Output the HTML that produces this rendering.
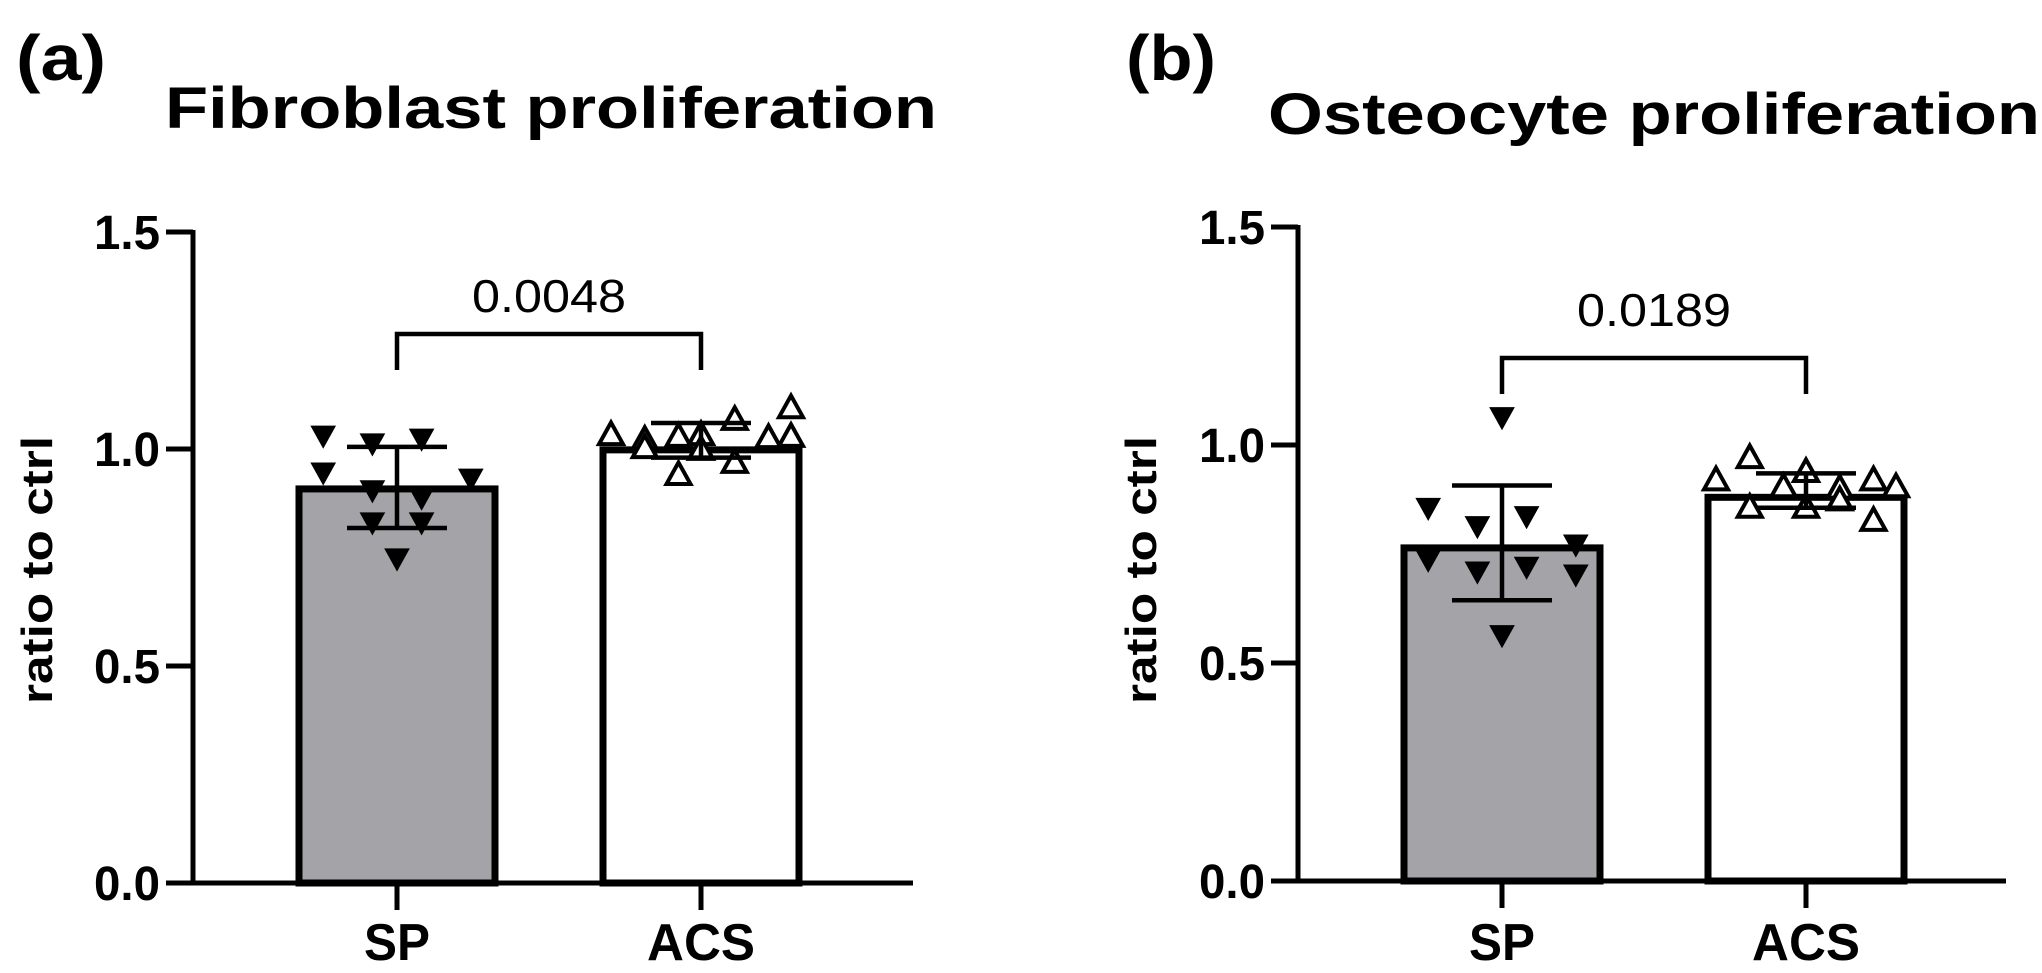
<!DOCTYPE html>
<html><head><meta charset="utf-8"><style>
html,body{margin:0;padding:0;background:#fff;}
svg{display:block;}
text{font-family:"Liberation Sans",Arial,sans-serif;}
</style></head><body>
<svg id="fig" width="2042" height="973" viewBox="0 0 2042 973" xmlns="http://www.w3.org/2000/svg"></svg>
<script>
// ---- data ----
const categories = ["SP", "ACS"];
const yTicks = [0.0, 0.5, 1.0, 1.5];
const yTickLabels = ["0.0", "0.5", "1.0", "1.5"];
// Panel a: Fibroblast
const fibMeans = [0.908, 0.998];
const fibSdHi = [1.005, 1.06];
const fibSdLo = [0.818, 0.98];
const fibSP = [1.032, 1.014, 1.025, 0.947, 0.906, 0.889, 0.933, 0.832, 0.832, 0.749];
const fibSPcol = [-3, -1, 1, -3, -1, 1, 3, -1, 1, 0];
const fibACS = [1.032, 1.021, 1.028, 1.032, 1.067, 1.025, 1.094, 1.028, 1.002, 0.940, 0.968, 0.998];
const fibACScol = [-4, -2.5, -1, 0, 1.5, 3, 4, 4, -2.5, -1, 1.5, 0];
const fibP = "0.0048";
// Panel b: Osteocyte
const ostMeans = [0.764, 0.880];
const ostSdHi = [0.907, 0.935];
const ostSdLo = [0.644, 0.856];
const ostSP = [1.065, 0.857, 0.815, 0.838, 0.773, 0.738, 0.711, 0.722, 0.704, 0.565];
const ostSPcol = [0, -3, -1, 1, 3, -3, -1, 1, 3, 0];
const ostACS = [0.919, 0.970, 0.903, 0.938, 0.900, 0.919, 0.903, 0.856, 0.856, 0.826, 0.873];
const ostACScol = [-4, -2.5, -1, 0, 1.5, 3, 4, -2.5, 0, 3, 1.5];
const ostP = "0.0189";

const NS = "http://www.w3.org/2000/svg";
const svg = document.getElementById('fig');
function mk(tag, attrs, parent) {
  const e = document.createElementNS(NS, tag);
  for (const k in attrs) e.setAttribute(k, attrs[k]);
  (parent || svg).appendChild(e);
  return e;
}

function panel(cfg) {
  const g = mk('g', {});
  
  
  const y = v => cfg.y0 - v * cfg.k;
  const ax = cfg.ax;
  const barW = 196;
  const xc = [ax + 204, ax + 508];

  const lab = mk('text', {x: cfg.labX, y: 80, 'font-size': 64, 'font-weight': 'bold', textLength: 90, lengthAdjust: 'spacingAndGlyphs'}, g);
  lab.textContent = cfg.letter;
  
  
  const t = mk('text', {x: cfg.titleX, y: cfg.titleY, 'font-size': 58, 'font-weight': 'bold', textLength: cfg.titleW, lengthAdjust: 'spacingAndGlyphs'}, g);
  t.textContent = cfg.title;
  
  

  const yt = mk('text', {x: 0, y: 0, 'font-size': 44, 'font-weight': 'bold', 'text-anchor': 'middle', textLength: 268, lengthAdjust: 'spacingAndGlyphs', transform: `translate(${cfg.ytX},570) rotate(-90)`}, g);
  yt.textContent = 'ratio to ctrl';
  
  

  const fills = ['#a4a3a8', '#ffffff'];
  for (let i = 0; i < 2; i++) {
    const top = y(cfg.means[i]);
    const r = mk('rect', {x: xc[i] - barW / 2, y: top, width: barW, height: y(0) - top, fill: fills[i], stroke: '#000', 'stroke-width': 7}, g);
    
    
  }

  const drawPts = (vals, cols, i, filled) => {
    const step = filled ? 24.6 : 22.5;
    vals.forEach((v, j) => {
      const cx = xc[i] + cols[j] * step;
      const cy = y(v);
      const s = 12;
      const pts = filled
        ? `${cx - s},${cy - s * 0.75} ${cx + s},${cy - s * 0.75} ${cx},${cy + s * 1.05}`
        : `${cx - s},${cy + s * 0.75} ${cx + s},${cy + s * 0.75} ${cx},${cy - s * 1.05}`;
      const p = mk('polygon', {points: pts, fill: filled ? '#000' : '#fff', stroke: '#000', 'stroke-width': filled ? 1 : 4, 'stroke-linejoin': 'miter'}, g);
      
      
    });
  };
  drawPts(cfg.sp, cfg.spCol, 0, true);
  drawPts(cfg.acs, cfg.acsCol, 1, false);

  for (let i = 0; i < 2; i++) {
    const eg = mk('g', {stroke: '#000', 'stroke-width': 4.5}, g);
    
    
    mk('line', {x1: xc[i], x2: xc[i], y1: y(cfg.hi[i]), y2: y(cfg.lo[i])}, eg);
    mk('line', {x1: xc[i] - 50, x2: xc[i] + 50, y1: y(cfg.hi[i]), y2: y(cfg.hi[i])}, eg);
    mk('line', {x1: xc[i] - 50, x2: xc[i] + 50, y1: y(cfg.lo[i]), y2: y(cfg.lo[i])}, eg);
  }

  const axg = mk('g', {stroke: '#000', 'stroke-width': 5, fill: 'none'}, g);
  
  
  mk('line', {x1: ax, x2: ax, y1: y(1.5) - 2, y2: y(0) + 2}, axg);
  mk('line', {x1: ax - 27, x2: cfg.axEnd, y1: y(0), y2: y(0)}, axg);
  yTicks.forEach((v, i) => {
    mk('line', {x1: ax - 27, x2: ax, y1: y(v), y2: y(v)}, axg);
    const tl = mk('text', {x: ax - 33, y: y(v) + 17, 'font-size': 48, 'font-weight': 'bold', 'text-anchor': 'end', stroke: 'none', fill: '#000', textLength: 66, lengthAdjust: 'spacingAndGlyphs'}, g);
    tl.textContent = yTickLabels[i];
    
    
  });
  categories.forEach((c, i) => {
    mk('line', {x1: xc[i], x2: xc[i], y1: y(0), y2: y(0) + 27}, axg);
    const xl = mk('text', {x: xc[i], y: 960, 'font-size': 52, 'font-weight': 'bold', 'text-anchor': 'middle', textLength: c === 'SP' ? 66 : 108, lengthAdjust: 'spacingAndGlyphs'}, g);
    xl.textContent = c;
    
    
  });

  const bg = mk('path', {d: `M${xc[0]},${cfg.brY + 36} V${cfg.brY} H${xc[1]} V${cfg.brY + 36}`, stroke: '#000', 'stroke-width': 4.5, fill: 'none'}, g);
  
  
  const pt = mk('text', {x: (xc[0] + xc[1]) / 2, y: cfg.pY, 'font-size': 46, 'text-anchor': 'middle', textLength: 154, lengthAdjust: 'spacingAndGlyphs'}, g);
  pt.textContent = cfg.p;
  
  
}

panel({name: 'panel-a-fibroblast', letter: '(a)', labX: 16, title: 'Fibroblast proliferation', titleX: 165, titleY: 128, titleW: 772,
  ytX: 52, ax: 193, axEnd: 913, y0: 883, k: 434,
  means: fibMeans, hi: fibSdHi, lo: fibSdLo, sp: fibSP, spCol: fibSPcol, acs: fibACS, acsCol: fibACScol,
  brY: 334, pY: 312, p: fibP});
panel({name: 'panel-b-osteocyte', letter: '(b)', labX: 1126, title: 'Osteocyte proliferation', titleX: 1268, titleY: 134, titleW: 772,
  ytX: 1156, ax: 1298, axEnd: 2006, y0: 881, k: 436,
  means: ostMeans, hi: ostSdHi, lo: ostSdLo, sp: ostSP, spCol: ostSPcol, acs: ostACS, acsCol: ostACScol,
  brY: 358, pY: 326, p: ostP});
</script>
</body></html>
